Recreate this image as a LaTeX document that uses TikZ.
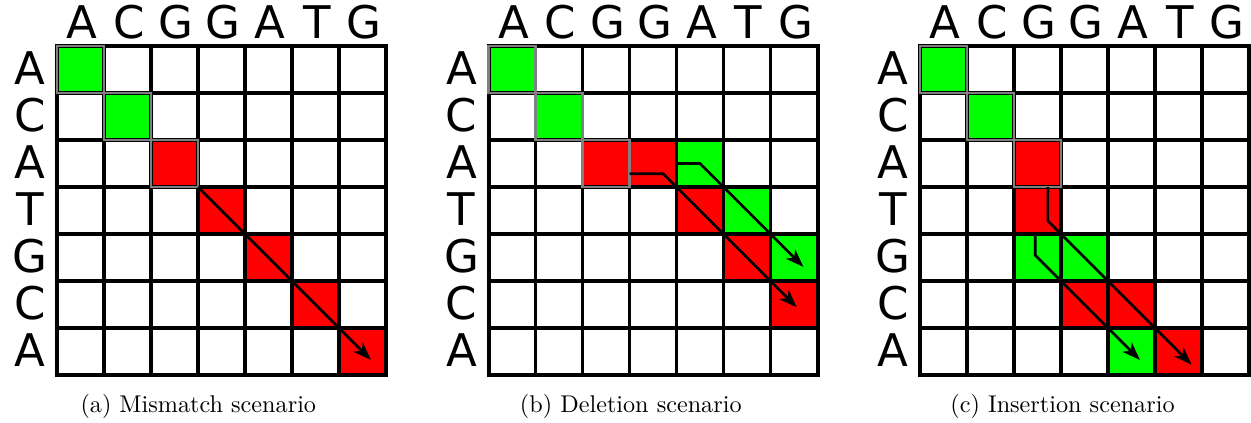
\documentclass[tikz,border=0pt]{standalone}
\usepackage{fontspec}
\newfontfamily\seqfont{DejaVu Sans}
\usetikzlibrary{arrows.meta}

\definecolor{hitgreen}{RGB}{0,255,0}
\definecolor{missred}{RGB}{255,0,0}
\definecolor{framegray}{RGB}{128,128,128}

\tikzset{
  base letter/.style={inner sep=0pt, font=\seqfont\fontsize{45}{50}\selectfont, anchor=base},
  col letter/.style={base letter, xshift=1.5pt, yshift=7.5pt},
  row letter/.style={base letter, xshift=-27pt, yshift=-14.5pt},
  gridline/.style={line width=3.2pt, black},
  gridframe/.style={line width=4pt, black},
  seedframe/.style={line width=2.6pt, framegray},
  trace/.style={line width=2.7pt, black, -{Stealth[length=18pt,width=13pt,inset=5pt]}},
  caption/.style={inner sep=0pt, anchor=base, scale=2.42, font=\fontsize{10}{12}\selectfont},
}

% letters, grid lines and the seed outline of one dot-plot matrix
\newcommand\seqmatrix[1]{%
  \foreach \s [count=\i] in {A,C,G,G,A,T,G}
    \node[col letter] (#1-col\i) at (\i-0.5,0) {\s};
  \foreach \s [count=\i] in {A,C,A,T,G,C,A}
    \node[row letter] (#1-row\i) at (0,\i-0.5) {\s};
  \foreach \k in {1,...,6} {
    \draw[gridline] (\k,0) -- (\k,7);
    \draw[gridline] (0,\k) -- (7,\k);
  }
  \draw[gridframe] (0,0) rectangle (7,7);
  \draw[seedframe] (0,0) rectangle (1,1) (1,1) rectangle (2,2) (2,2) rectangle (3,3);
}

\begin{document}
\begin{tikzpicture}[x=1pt, y=-1pt]
\useasboundingbox (0,0) rectangle (1251,423);

% (a) mismatch
\begin{scope}[shift={(57,46)}, x=47pt, y=-47pt]
  \foreach \r/\c in {1/1,2/2}
    \fill[hitgreen] ({\c-1},{\r-1}) rectangle (\c,\r);
  \foreach \r/\c in {3/3,4/4,5/5,6/6,7/7}
    \fill[missred] ({\c-1},{\r-1}) rectangle (\c,\r);
  \seqmatrix{a}
  \coordinate (a-s) at (3,3);
  \coordinate (a-e) at (6.68,6.68);
  \draw[trace] (a-s) -- (a-e);
\end{scope}

% (b) deletion
\begin{scope}[shift={(488.5,46)}, x=47pt, y=-47pt]
  \foreach \r/\c in {1/1,2/2,3/5,4/6,5/7}
    \fill[hitgreen] ({\c-1},{\r-1}) rectangle (\c,\r);
  \foreach \r/\c in {3/3,3/4,4/5,5/6,6/7}
    \fill[missred] ({\c-1},{\r-1}) rectangle (\c,\r);
  \seqmatrix{b}
  \coordinate (b-rs) at (3,2.72);
  \coordinate (b-rk) at (3.72,2.72);
  \coordinate (b-re) at (6.56,5.56);
  \coordinate (b-gs) at (4,2.5);
  \coordinate (b-gk) at (4.5,2.5);
  \coordinate (b-ge) at (6.7,4.7);
  \draw[trace] (b-rs) -- (b-rk) -- (b-re);
  \draw[trace] (b-gs) -- (b-gk) -- (b-ge);
\end{scope}

% (c) insertion
\begin{scope}[shift={(920,46)}, x=47pt, y=-47pt]
  \foreach \r/\c in {1/1,2/2,5/3,5/4,7/5}
    \fill[hitgreen] ({\c-1},{\r-1}) rectangle (\c,\r);
  \foreach \r/\c in {3/3,4/3,6/4,6/5,7/6}
    \fill[missred] ({\c-1},{\r-1}) rectangle (\c,\r);
  \seqmatrix{c}
  \coordinate (c-rs) at (2.72,3);
  \coordinate (c-rk) at (2.72,3.72);
  \coordinate (c-re) at (5.78,6.78);
  \coordinate (c-gs) at (2.45,4);
  \coordinate (c-gk) at (2.45,4.45);
  \coordinate (c-ge) at (4.68,6.68);
  \draw[trace] (c-rs) -- (c-rk) -- (c-re);
  \draw[trace] (c-gs) -- (c-gk) -- (c-ge);
\end{scope}

\node[caption] (cap-a) at (198.3,412.5) {(a) Mismatch scenario};
\node[caption] (cap-b) at (630.8,412.5) {(b) Deletion scenario};
\node[caption] (cap-c) at (1062.5,412.5) {(c) Insertion scenario};
\end{tikzpicture}
\end{document}
